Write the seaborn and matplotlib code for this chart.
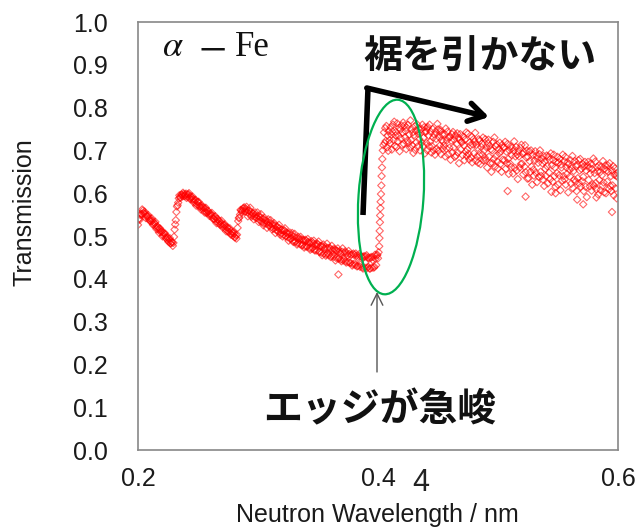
import numpy as np
import pandas as pd
import matplotlib
matplotlib.use("Agg")
import matplotlib.pyplot as plt
from matplotlib.patches import Ellipse
import seaborn as sns

# ---------------- data ----------------
# below the Bragg edge: wavelength 0.200 .. 0.399 nm, step 0.001
low_start, low_step = 0.200, 0.001
low_T = [
    0.526, 0.541, 0.549, 0.551, 0.559, 0.553, 0.552, 0.546, 0.547, 0.540,
    0.541, 0.534, 0.536, 0.527, 0.529, 0.521, 0.523, 0.515, 0.518, 0.509,
    0.510, 0.502, 0.505, 0.496, 0.498, 0.489, 0.493, 0.483, 0.486, 0.477,
    0.498, 0.527, 0.556, 0.572, 0.588, 0.590, 0.596, 0.593, 0.598, 0.594,
    0.599, 0.592, 0.597, 0.589, 0.593, 0.585, 0.586, 0.580, 0.584, 0.574,
    0.579, 0.570, 0.571, 0.566, 0.568, 0.559, 0.564, 0.554, 0.559, 0.551,
    0.552, 0.547, 0.548, 0.540, 0.545, 0.535, 0.540, 0.530, 0.535, 0.527,
    0.529, 0.522, 0.526, 0.516, 0.520, 0.511, 0.516, 0.506, 0.511, 0.501,
    0.506, 0.497, 0.494, 0.519, 0.542, 0.550, 0.560, 0.559, 0.565, 0.558,
    0.563, 0.556, 0.559, 0.551, 0.557, 0.548, 0.553, 0.545, 0.549, 0.542,
    0.547, 0.538, 0.543, 0.534, 0.541, 0.530, 0.537, 0.529, 0.533, 0.524,
    0.531, 0.521, 0.528, 0.517, 0.525, 0.514, 0.521, 0.510, 0.518, 0.507,
    0.514, 0.503, 0.512, 0.500, 0.508, 0.497, 0.505, 0.493, 0.502, 0.489,
    0.498, 0.486, 0.496, 0.483, 0.494, 0.481, 0.492, 0.479, 0.490, 0.476,
    0.489, 0.475, 0.486, 0.472, 0.484, 0.470, 0.483, 0.468, 0.481, 0.466,
    0.480, 0.463, 0.477, 0.461, 0.476, 0.459, 0.474, 0.457, 0.472, 0.455,
    0.470, 0.453, 0.468, 0.451, 0.467, 0.449, 0.465, 0.447, 0.464, 0.445,
    0.463, 0.443, 0.461, 0.441, 0.460, 0.439, 0.458, 0.437, 0.457, 0.434,
    0.456, 0.432, 0.454, 0.430, 0.453, 0.428, 0.452, 0.427, 0.451, 0.426,
    0.452, 0.425, 0.450, 0.424, 0.449, 0.426, 0.451, 0.428, 0.447, 0.455,
]

# interleaved readings: wavelength 0.2005 .. 0.3995 nm, step 0.001
low2_start, low2_step = 0.2005, 0.001
low2_T = [
    0.539, 0.538, 0.552, 0.562, 0.553, 0.557, 0.542, 0.547, 0.549, 0.536,
    0.535, 0.541, 0.526, 0.531, 0.533, 0.516, 0.520, 0.508, 0.517, 0.511,
    0.499, 0.507, 0.506, 0.494, 0.496, 0.486, 0.495, 0.483, 0.485, 0.484,
    0.515, 0.537, 0.569, 0.578, 0.595, 0.589, 0.597, 0.601, 0.593, 0.597,
    0.589, 0.597, 0.600, 0.586, 0.590, 0.592, 0.578, 0.584, 0.571, 0.580,
    0.580, 0.568, 0.562, 0.571, 0.566, 0.555, 0.566, 0.555, 0.558, 0.547,
    0.552, 0.554, 0.540, 0.540, 0.546, 0.530, 0.539, 0.534, 0.526, 0.536,
    0.520, 0.525, 0.527, 0.511, 0.520, 0.510, 0.518, 0.503, 0.507, 0.509,
    0.497, 0.502, 0.503, 0.535, 0.543, 0.561, 0.556, 0.564, 0.567, 0.557,
    0.568, 0.546, 0.560, 0.566, 0.545, 0.553, 0.539, 0.555, 0.543, 0.555,
    0.533, 0.546, 0.551, 0.531, 0.525, 0.542, 0.535, 0.519, 0.539, 0.525,
    0.537, 0.516, 0.524, 0.530, 0.507, 0.523, 0.512, 0.526, 0.503, 0.514,
    0.499, 0.514, 0.518, 0.499, 0.505, 0.489, 0.508, 0.495, 0.507, 0.486,
    0.505, 0.488, 0.480, 0.498, 0.491, 0.498, 0.478, 0.491, 0.473, 0.491,
    0.476, 0.493, 0.484, 0.468, 0.488, 0.473, 0.489, 0.466, 0.477, 0.482,
    0.487, 0.463, 0.476, 0.455, 0.480, 0.470, 0.454, 0.482, 0.459, 0.473,
    0.451, 0.477, 0.457, 0.470, 0.443, 0.466, 0.471, 0.448, 0.459, 0.441,
    0.471, 0.447, 0.464, 0.438, 0.455, 0.465, 0.438, 0.456, 0.431, 0.459,
    0.436, 0.459, 0.429, 0.449, 0.458, 0.433, 0.451, 0.424, 0.453, 0.437,
    0.455, 0.428, 0.448, 0.424, 0.451, 0.444, 0.426, 0.456, 0.432, 0.456,
]

# the steep edge itself
edge_wl = [0.4000, 0.4005, 0.4010, 0.4012, 0.4014, 0.4016, 0.4018, 0.4020,
           0.4022, 0.4025, 0.4028, 0.4030, 0.4033, 0.4036, 0.4040, 0.4045]
edge_T = [0.448, 0.462, 0.476, 0.495, 0.512, 0.532, 0.548, 0.565,
          0.580, 0.598, 0.618, 0.640, 0.660, 0.680, 0.700, 0.712]

# above the edge: wavelength 0.405 .. 0.600 nm, step 0.0005
high_start, high_step = 0.405, 0.0005
high_T = [
    0.742, 0.717, 0.752, 0.722, 0.757, 0.707, 0.735, 0.699, 0.745, 0.724,
    0.717, 0.754, 0.737, 0.702, 0.744, 0.760, 0.724, 0.767, 0.710, 0.735,
    0.743, 0.708, 0.763, 0.721, 0.735, 0.753, 0.698, 0.748, 0.728, 0.758,
    0.713, 0.741, 0.765, 0.715, 0.758, 0.731, 0.745, 0.703, 0.753, 0.723,
    0.760, 0.717, 0.737, 0.707, 0.770, 0.724, 0.750, 0.712, 0.742, 0.694,
    0.736, 0.756, 0.701, 0.746, 0.719, 0.761, 0.709, 0.739, 0.751, 0.726,
    0.700, 0.740, 0.750, 0.718, 0.760, 0.710, 0.730, 0.754, 0.693, 0.742,
    0.745, 0.717, 0.700, 0.755, 0.735, 0.710, 0.760, 0.720, 0.743, 0.695,
    0.710, 0.750, 0.730, 0.700, 0.737, 0.690, 0.744, 0.727, 0.704, 0.762,
    0.749, 0.699, 0.731, 0.711, 0.744, 0.691, 0.724, 0.737, 0.704, 0.721,
    0.711, 0.738, 0.686, 0.751, 0.704, 0.724, 0.744, 0.691, 0.731, 0.706,
    0.731, 0.678, 0.723, 0.738, 0.695, 0.743, 0.707, 0.725, 0.685, 0.735,
    0.688, 0.715, 0.740, 0.695, 0.730, 0.670, 0.725, 0.738, 0.702, 0.720,
    0.719, 0.689, 0.732, 0.712, 0.677, 0.725, 0.697, 0.742, 0.687, 0.702,
    0.739, 0.692, 0.679, 0.719, 0.712, 0.684, 0.732, 0.672, 0.714, 0.726,
    0.693, 0.721, 0.741, 0.676, 0.713, 0.686, 0.706, 0.671, 0.726, 0.689,
    0.723, 0.668, 0.708, 0.716, 0.690, 0.730, 0.676, 0.700, 0.683, 0.726,
    0.677, 0.707, 0.660, 0.717, 0.725, 0.685, 0.710, 0.670, 0.703, 0.650,
    0.700, 0.670, 0.720, 0.680, 0.730, 0.662, 0.710, 0.687, 0.714, 0.674,
    0.658, 0.703, 0.693, 0.718, 0.668, 0.698, 0.650, 0.713, 0.678, 0.706,
    0.707, 0.677, 0.720, 0.657, 0.697, 0.670, 0.715, 0.680, 0.645, 0.700,
    0.669, 0.709, 0.661, 0.689, 0.706, 0.646, 0.699, 0.721, 0.659, 0.686,
    0.708, 0.653, 0.690, 0.633, 0.698, 0.686, 0.660, 0.706, 0.668, 0.713,
    0.669, 0.692, 0.644, 0.696, 0.662, 0.712, 0.649, 0.684, 0.699, 0.634,
    0.685, 0.635, 0.698, 0.675, 0.650, 0.700, 0.662, 0.620, 0.690, 0.655,
    0.641, 0.676, 0.698, 0.648, 0.688, 0.626, 0.681, 0.671, 0.638, 0.691,
    0.700, 0.650, 0.640, 0.680, 0.670, 0.632, 0.687, 0.617, 0.674, 0.657,
    0.640, 0.688, 0.663, 0.623, 0.686, 0.648, 0.678, 0.633, 0.693, 0.603,
    0.665, 0.627, 0.677, 0.690, 0.640, 0.660, 0.615, 0.673, 0.647, 0.685,
    0.620, 0.672, 0.642, 0.680, 0.607, 0.667, 0.660, 0.630, 0.690, 0.640,
    0.675, 0.632, 0.685, 0.620, 0.660, 0.645, 0.672, 0.602, 0.668, 0.655,
    0.639, 0.677, 0.622, 0.659, 0.687, 0.612, 0.652, 0.632, 0.675, 0.627,
    0.663, 0.605, 0.667, 0.635, 0.677, 0.623, 0.653, 0.680, 0.615, 0.657,
    0.628, 0.668, 0.638, 0.605, 0.663, 0.673, 0.615, 0.653, 0.591, 0.665,
    0.673, 0.631, 0.659, 0.616, 0.646, 0.669, 0.606, 0.656, 0.621, 0.681,
    0.617, 0.647, 0.674, 0.624, 0.609, 0.661, 0.651, 0.597, 0.664, 0.631,
    0.649, 0.607, 0.662, 0.642, 0.617, 0.675, 0.625, 0.602, 0.657, 0.665,
    0.600, 0.653, 0.627, 0.665, 0.650, 0.610, 0.670, 0.617, 0.640, 0.605,
    0.653, 0.618, 0.663, 0.595, 0.643, 0.658, 0.611, 0.641, 0.588, 0.648,
    0.637,
]

# a few scattered outliers
outlier_wl = [0.367, 0.508, 0.523, 0.548, 0.566, 0.571, 0.582, 0.595, 0.441, 0.452]
outlier_T = [0.410, 0.605, 0.592, 0.600, 0.585, 0.574, 0.590, 0.556, 0.752, 0.748]

x_ticks = [0.2, 0.4, 0.6]
y_ticks = [0.0, 0.1, 0.2, 0.3, 0.4, 0.5, 0.6, 0.7, 0.8, 0.9, 1.0]

# ---------------- assemble ----------------
low_wl = low_start + low_step * np.arange(len(low_T))
low2_wl = low2_start + low2_step * np.arange(len(low2_T))
high_wl = high_start + high_step * np.arange(len(high_T))
df = pd.DataFrame({
    "wl": np.concatenate([low_wl, low2_wl, edge_wl, high_wl, outlier_wl]),
    "T": np.concatenate([low_T, low2_T, edge_T, high_T, outlier_T]),
})

sns.set_theme(style="white")
plt.rcParams["font.family"] = ["Liberation Sans", "DejaVu Sans"]
plt.rcParams["mathtext.fontset"] = "stix"

W, H = 637, 528
fig = plt.figure(figsize=(W / 100, H / 100), dpi=100)
ax = fig.add_axes([138 / W, 1 - 450 / H, (618 - 138) / W, (450 - 22) / H])


def px2data(px, py):
    return 0.2 + (px - 138) / 1200, (450 - py) / 428


sns.scatterplot(data=df, x="wl", y="T", ax=ax, marker="D", s=14,
                facecolor="none", edgecolor=(1, 0, 0, 0.6), linewidth=0.8,
                legend=False)

ax.set_xlim(0.2, 0.6)
ax.set_ylim(0.0, 1.0)
ax.set_xticks(x_ticks)
ax.set_xticklabels([f"{v:.1f}" for v in x_ticks])
ax.set_yticks(y_ticks)
ax.set_yticklabels([f"{v:.1f}" for v in y_ticks])
ax.tick_params(axis="x", direction="in", length=5, width=1, color="#888888",
               pad=12, labelsize=18, labelcolor="#1a1a1a")
ax.tick_params(axis="y", length=0, pad=21.5, labelsize=18, labelcolor="#1a1a1a")
for s in ax.spines.values():
    s.set_color("#888888")
    s.set_linewidth(1.2)

ax.set_xlabel("Neutron Wavelength / nm", fontsize=18, color="#1a1a1a")
ax.set_ylabel("Transmission", fontsize=18, color="#1a1a1a")
ax.xaxis.set_label_coords((377 - 138) / 480, -(522 - 450) / 428)
ax.xaxis.label.set_verticalalignment("baseline")
ax.yaxis.set_label_coords(-(138 - 25) / 480, (450 - 212) / 428)
ax.yaxis.label.set_verticalalignment("center")

# "α − Fe"
ax.text(*px2data(162, 56), r"$\alpha$", fontsize=26, ha="left", va="baseline",
        color="#111111")
ax.text(*px2data(213, 53), "−", fontsize=36, ha="center", va="center",
        family=["Liberation Serif", "DejaVu Serif"], color="#111111")
ax.text(*px2data(235, 56), "Fe", fontsize=25, ha="left", va="baseline",
        family=["Liberation Serif", "DejaVu Serif"], color="#111111")

ax.text(*px2data(480, 57), "裾を引かない",
        fontsize=28, fontweight="bold", ha="center", va="center",
        family=["Noto Sans CJK JP", "DejaVu Sans"], color="#111111")
ax.text(*px2data(380, 410), "エッジが急峻",
        fontsize=28, fontweight="bold", ha="center", va="center",
        family=["Noto Sans CJK JP", "DejaVu Sans"], color="#111111")

# thick black arrow
p0 = px2data(363, 215)
p1 = px2data(368, 88)
p2 = px2data(489, 117)
ax.plot([p0[0], p1[0]], [p0[1], p1[1]], color="black", lw=4,
        solid_capstyle="butt", zorder=5)
ax.annotate("", xy=p2, xytext=(p1[0] - 0.001, p1[1]),
            arrowprops=dict(arrowstyle="->,head_length=0.9,head_width=0.55",
                            lw=4, color="black", shrinkA=0, shrinkB=0),
            zorder=5)

# thin arrow
ax.annotate("", xy=px2data(377, 292), xytext=px2data(377, 372),
            arrowprops=dict(arrowstyle="->,head_length=0.7,head_width=0.35",
                            lw=1.0, color="#555555", shrinkA=0, shrinkB=0))

# green ellipse (drawn in figure inches)
ell = Ellipse((391 / 100, (H - 197) / 100), 0.65, 1.95, angle=-4,
              transform=fig.dpi_scale_trans, fill=False,
              edgecolor="#00B050", lw=1.6, zorder=6)
fig.patches.append(ell)

fig.text(421 / W, 1 - 483 / H, "4", fontsize=22, ha="center", va="center",
         color="#222222")

fig.savefig("out.png", dpi=100)
